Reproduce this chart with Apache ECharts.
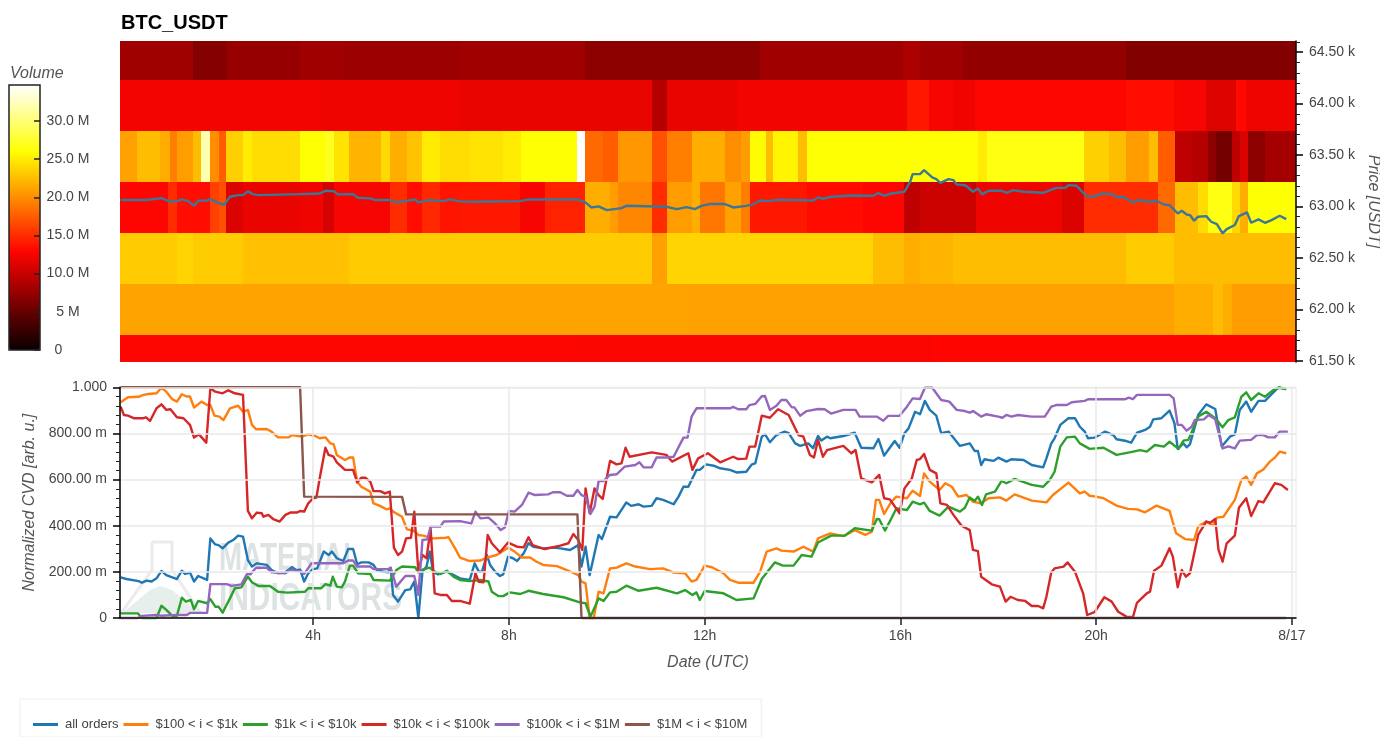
<!DOCTYPE html>
<html><head><meta charset="utf-8">
<style>html,body{margin:0;padding:0;background:#fff;overflow:hidden}#c{width:1380px;height:737px}</style>
<script src="https://cdn.jsdelivr.net/npm/echarts@6/dist/echarts.min.js"></script>
</head><body><div id="c"></div>
<script>
// Time is minutes since 00:00 UTC, 8/16. CVD is normalized 0..1. Price in USDT. Volume in millions.
const xTicks = [240, 480, 720, 960, 1200, 1440];
const xTickLabels = ['4h', '8h', '12h', '16h', '20h', '8/17'];
const priceTicks = [61500, 62000, 62500, 63000, 63500, 64000, 64500];
const priceTickLabels = ['61.50 k', '62.00 k', '62.50 k', '63.00 k', '63.50 k', '64.00 k', '64.50 k'];
const priceMinorTicks = [61600,61700,61800,61900,62100,62200,62300,62400,62600,62700,62800,62900,63100,63200,63300,63400,63600,63700,63800,63900,64100,64200,64300,64400,64600];
const cvdTicks = [0, 0.2, 0.4, 0.6, 0.8, 1];
const cvdTickLabels = ['0', '200.00 m', '400.00 m', '600.00 m', '800.00 m', '1.000'];
const volumeTicks = [0, 5, 10, 15, 20, 25, 30];
const volumeTickLabels = ['0     ', '5 M', '10.0 M', '15.0 M', '20.0 M', '25.0 M', '30.0 M'];
const hotStops = ['#0b0000', '#570000', '#af0000', '#ff0500', '#ff5a00', '#ffae00', '#ffff03', '#ffff80', '#ffffff'];

// price bin edges, bottom to top
const binEdges = [61487, 61749, 62245, 62741, 63237, 63733, 64230, 64609];
// [start minute, volume M]; each band lasts until the next start
const bin0 = [[3, 12.9], [560, 12.8], [1000, 13]];
const bin1 = [[3, 21.1], [700, 21], [1295, 21.7], [1343, 22.5], [1355, 21.7], [1366, 20.8]];
const bin2 = [[3, 23.3], [73, 23.7], [93, 23.3], [154, 22.7], [284, 23.3], [655, 21], [674, 23.7], [927, 22.5], [965, 21.7], [984, 22], [1025, 22.5], [1237, 23.3], [1295, 22.5]];
const bin3 = [[3, 12.9], [62, 15], [73, 13.4], [114, 16], [124, 16.8], [133, 11], [154, 11.8], [224, 12.2], [252, 10.7], [265, 12.6], [334, 15], [355, 13.4], [373, 14.8], [395, 13.8], [420, 14], [494, 12.6], [524, 14.5], [573, 21.7], [604, 20.8], [614, 19.6], [655, 15], [674, 20.8], [704, 21.7], [714, 18.8], [745, 21], [765, 19.2], [775, 14], [845, 13.3], [914, 12.9], [965, 9.5], [984, 10.2], [1053, 12.2], [1158, 11], [1185, 15], [1276, 18.2], [1297, 22.5], [1325, 24.2], [1337, 26.5], [1366, 24], [1376, 21.7], [1386, 26]];
const bin4 = [[3, 21], [24, 22.5], [52, 21.7], [65, 19.2], [73, 20.8], [93, 22.5], [103, 32], [114, 20], [124, 17.5], [133, 23.5], [154, 25], [165, 24.2], [224, 26], [255, 27], [265, 24.5], [284, 22], [323, 24], [334, 21.7], [355, 22.8], [373, 25], [395, 24.2], [432, 24.5], [473, 25], [495, 26], [563, 34.7], [573, 18.2], [595, 17.5], [614, 20.5], [655, 16.8], [674, 19.2], [704, 21.7], [745, 20], [765, 20.8], [775, 25.8], [795, 22.5], [804, 25.5], [834, 22.5], [845, 26], [1055, 25], [1066, 26.5], [1185, 23.5], [1216, 22.5], [1237, 20.8], [1265, 22.5], [1276, 17.5], [1297, 9.5], [1317, 9], [1337, 7], [1347, 5.8], [1366, 9.5], [1376, 11], [1386, 7], [1407, 8.2]];
const bin5 = [[3, 12.4], [248, 12.2], [420, 11.8], [655, 9], [674, 11.8], [760, 12.3], [968, 14], [995, 12.6], [1025, 12.2], [1052, 12.9], [1237, 13.4], [1295, 12.6], [1335, 11.3], [1372, 13.2], [1384, 12.2]];
const bin6 = [[3, 7.9], [93, 6.6], [134, 7.5], [224, 8], [277, 7.8], [420, 8], [573, 7], [788, 8], [963, 8.6], [984, 8], [1037, 7.3], [1237, 6.5]];

const price = [[4,63062],[36,63062],[54,63081],[65,63045],[73,63052],[79,63068],[87,63052],[94,63006],[99,63055],[110,63058],[114,63071],[122,63039],[131,63016],[138,63094],[148,63110],[154,63110],[160,63146],[166,63120],[173,63110],[224,63120],[248,63126],[255,63152],[265,63149],[271,63117],[289,63120],[295,63084],[310,63078],[316,63062],[334,63062],[342,63039],[365,63068],[369,63039],[383,63062],[400,63052],[408,63068],[420,63049],[440,63045],[494,63052],[504,63068],[563,63068],[573,63045],[581,62990],[590,63000],[600,62964],[618,62984],[624,63006],[673,62997],[686,62974],[698,62994],[708,62974],[716,63006],[726,63023],[745,63023],[755,62990],[771,63006],[780,63023],[788,63058],[798,63052],[810,63065],[853,63058],[859,63087],[865,63075],[875,63094],[900,63107],[927,63104],[933,63130],[940,63104],[949,63126],[965,63143],[972,63240],[975,63314],[984,63314],[989,63353],[999,63282],[1004,63266],[1009,63230],[1019,63266],[1025,63256],[1029,63214],[1040,63204],[1049,63143],[1055,63175],[1060,63117],[1068,63152],[1084,63152],[1091,63133],[1098,63159],[1111,63143],[1135,63133],[1151,63181],[1162,63181],[1166,63207],[1176,63201],[1188,63100],[1196,63094],[1209,63126],[1221,63117],[1225,63087],[1233,63094],[1245,63039],[1252,63062],[1266,63045],[1274,63055],[1283,63019],[1290,63013],[1300,62932],[1305,62958],[1311,62922],[1315,62916],[1320,62861],[1325,62900],[1335,62906],[1341,62851],[1348,62828],[1355,62738],[1360,62780],[1370,62819],[1375,62906],[1385,62942],[1390,62841],[1399,62874],[1407,62841],[1415,62867],[1425,62909],[1433,62877]];

const allOrders = [[4,.176],[11,.169],[26,.16],[30,.153],[36,.162],[42,.158],[48,.172],[54,.204],[60,.186],[73,.169],[79,.205],[83,.191],[89,.197],[94,.158],[99,.182],[110,.165],[114,.345],[120,.319],[124,.316],[129,.302],[136,.327],[142,.338],[148,.357],[154,.353],[160,.251],[165,.223],[171,.237],[183,.23],[189,.208],[197,.194],[206,.198],[214,.22],[220,.207],[224,.21],[229,.158],[234,.194],[240,.212],[245,.215],[253,.288],[259,.273],[263,.288],[269,.259],[277,.247],[283,.299],[289,.299],[294,.233],[299,.241],[308,.241],[314,.23],[318,.208],[326,.201],[332,.198],[335,.218],[338,.1],[344,.071],[353,.121],[359,.124],[364,.158],[369,0],[374,.201],[379,.223],[383,.288],[387,.201],[393,.189],[404,.201],[420,.172],[432,.165],[438,.237],[443,.201],[447,.201],[453,.273],[457,.23],[463,.201],[469,.182],[473,.189],[479,.266],[485,.259],[490,.247],[498,.28],[504,.324],[510,.309],[522,.302],[534,.305],[543,.302],[555,.295],[565,.316],[569,.223],[574,.309],[579,.186],[590,.36],[594,.342],[604,.439],[612,.436],[624,.501],[630,.486],[639,.493],[645,.483],[655,.486],[661,.519],[669,.512],[682,.493],[688,.526],[694,.569],[700,.569],[710,.642],[714,.642],[722,.666],[731,.66],[739,.649],[751,.642],[759,.631],[771,.634],[778,.666],[782,.67],[790,.786],[794,.796],[800,.762],[808,.793],[818,.808],[823,.801],[831,.757],[837,.746],[847,.757],[853,.736],[859,.789],[863,.769],[870,.786],[874,.779],[890,.789],[904,.803],[912,.738],[927,.736],[933,.776],[940,.704],[945,.728],[953,.767],[959,.738],[965,.801],[970,.822],[978,.894],[984,.883],[990,.941],[996,.902],[1004,.877],[1010,.801],[1019,.808],[1033,.746],[1045,.757],[1051,.724],[1055,.724],[1059,.663],[1063,.688],[1074,.681],[1080,.695],[1090,.678],[1096,.688],[1111,.685],[1121,.663],[1135,.653],[1139,.692],[1145,.757],[1149,.779],[1156,.837],[1166,.866],[1174,.866],[1180,.829],[1186,.808],[1190,.779],[1198,.782],[1211,.808],[1221,.793],[1225,.775],[1237,.767],[1243,.76],[1250,.803],[1260,.815],[1266,.829],[1270,.861],[1280,.866],[1290,.899],[1296,.844],[1300,.733],[1307,.757],[1311,.74],[1315,.754],[1325,.88],[1335,.926],[1346,.906],[1354,.743],[1364,.786],[1370,.796],[1376,.902],[1384,.938],[1390,.894],[1399,.941],[1407,.941],[1423,.998],[1433,.993]];

const i100to1k = [[4,.935],[13,.957],[26,.959],[32,.967],[38,.971],[48,.974],[54,.998],[60,.981],[67,.949],[73,.938],[79,.97],[85,.96],[89,.96],[94,.912],[103,.938],[110,.923],[114,.923],[119,.877],[125,.873],[130,.858],[138,.909],[148,.92],[154,.894],[160,.902],[165,.837],[170,.818],[183,.819],[189,.808],[197,.783],[210,.783],[214,.793],[226,.786],[234,.796],[242,.79],[248,.779],[255,.783],[261,.757],[265,.754],[269,.707],[279,.685],[285,.696],[289,.696],[294,.591],[299,.569],[310,.548],[314,.497],[322,.486],[330,.471],[334,.475],[338,.461],[349,.439],[355,.384],[363,.379],[369,.36],[375,.357],[387,.345],[402,.348],[406,.35],[414,.302],[420,.262],[432,.247],[445,.249],[453,.262],[465,.273],[479,.305],[487,.288],[496,.262],[506,.262],[514,.244],[522,.23],[539,.225],[551,.208],[565,.186],[569,.158],[574,.15],[579,0],[584,0],[590,.114],[596,.107],[604,.215],[612,.218],[624,.237],[635,.223],[653,.212],[669,.215],[682,.197],[696,.194],[704,.158],[710,.165],[720,.227],[729,.22],[743,.194],[751,.165],[761,.153],[780,.153],[788,.201],[796,.288],[808,.302],[814,.292],[829,.288],[841,.309],[853,.288],[859,.345],[874,.367],[890,.355],[904,.381],[917,.36],[925,.374],[930,.512],[934,.512],[940,.451],[949,.504],[955,.526],[968,.519],[975,.552],[984,.529],[989,.627],[996,.591],[1008,.555],[1015,.584],[1023,.569],[1031,.526],[1041,.533],[1049,.504],[1059,.497],[1068,.519],[1082,.523],[1090,.509],[1100,.536],[1121,.509],[1139,.501],[1147,.533],[1166,.587],[1180,.54],[1186,.548],[1192,.53],[1200,.526],[1209,.519],[1225,.487],[1239,.473],[1250,.471],[1260,.458],[1274,.487],[1290,.464],[1298,.367],[1309,.342],[1320,.338],[1325,.396],[1335,.418],[1343,.4],[1348,.435],[1356,.439],[1370,.512],[1378,.598],[1384,.613],[1390,.577],[1397,.627],[1405,.644],[1413,.678],[1419,.695],[1425,.721],[1433,.714]];

const i1kto10k = [[4,.02],[25,.02],[30,0],[48,0],[54,.053],[60,.035],[67,.01],[73,.01],[79,.088],[84,.071],[90,.078],[94,.038],[99,.074],[110,.064],[114,.082],[120,.049],[124,.049],[129,.023],[138,.085],[144,.129],[152,.133],[160,.179],[165,.155],[173,.139],[187,.139],[197,.114],[208,.11],[230,.114],[234,.129],[250,.129],[255,.147],[261,.14],[264,.179],[269,.136],[275,.133],[279,.158],[285,.227],[289,.227],[295,.194],[310,.191],[314,.165],[334,.162],[342,.208],[349,.223],[365,.22],[369,.198],[375,.211],[383,.218],[389,.201],[396,.191],[404,.205],[412,.179],[420,.165],[432,.16],[445,.165],[455,.158],[459,.114],[467,.095],[473,.095],[481,.111],[494,.104],[504,.118],[522,.104],[547,.09],[567,.068],[574,.064],[580,.006],[590,.085],[596,.074],[604,.111],[612,.114],[624,.14],[639,.118],[661,.131],[686,.107],[696,.121],[705,.1],[710,.111],[714,.078],[720,.117],[743,.107],[759,.078],[780,.085],[790,.169],[806,.241],[816,.227],[829,.227],[839,.273],[851,.266],[859,.327],[875,.357],[892,.357],[904,.389],[925,.379],[931,.429],[934,.428],[941,.379],[949,.432],[955,.475],[968,.468],[975,.504],[984,.493],[989,.5],[996,.464],[1008,.444],[1019,.483],[1033,.461],[1039,.478],[1045,.522],[1051,.507],[1055,.526],[1060,.49],[1065,.536],[1076,.548],[1084,.594],[1090,.584],[1100,.603],[1121,.577],[1135,.569],[1143,.598],[1149,.634],[1156,.743],[1164,.783],[1174,.786],[1180,.757],[1192,.733],[1209,.738],[1225,.707],[1241,.718],[1254,.728],[1262,.721],[1272,.75],[1283,.743],[1290,.764],[1301,.733],[1307,.769],[1313,.772],[1319,.822],[1325,.873],[1335,.894],[1346,.866],[1355,.827],[1362,.858],[1370,.87],[1378,.959],[1384,.978],[1390,.945],[1399,.974],[1407,.959],[1417,.988],[1425,1],[1433,.991]];

const i10kto100k = [[4,.916],[8,.88],[13,.877],[20,.866],[32,.866],[35,.87],[40,.854],[48,.909],[54,.926],[60,.902],[65,.905],[73,.87],[81,.866],[89,.837],[94,.782],[100,.796],[109,.76],[114,.996],[120,.981],[129,.974],[136,.987],[144,.974],[154,.967],[160,.464],[165,.432],[171,.457],[177,.454],[179,.439],[185,.447],[191,.429],[199,.418],[206,.447],[212,.457],[220,.457],[224,.464],[229,.461],[234,.497],[240,.519],[244,.522],[248,.605],[255,.738],[259,.707],[265,.699],[269,.675],[279,.642],[289,.642],[294,.588],[299,.608],[304,.608],[310,.591],[314,.55],[322,.55],[328,.54],[334,.548],[339,.305],[344,.273],[349,.288],[354,.345],[360,.348],[364,.461],[369,.201],[374,.273],[379,.259],[384,.389],[389,.107],[396,.1],[404,.1],[410,.074],[420,.074],[432,.062],[439,.194],[443,.157],[449,.155],[454,.36],[459,.324],[469,.285],[479,.327],[490,.309],[498,.306],[504,.35],[509,.316],[524,.299],[543,.314],[553,.324],[559,.364],[565,.338],[570,.295],[574,.562],[579,.454],[585,.562],[590,.533],[595,.516],[604,.681],[612,.666],[618,.67],[623,.738],[628,.699],[655,.718],[673,.707],[680,.678],[700,.714],[705,.642],[712,.692],[724,.714],[739,.675],[755,.699],[761,.689],[771,.691],[775,.743],[782,.743],[790,.877],[800,.868],[810,.905],[823,.88],[835,.793],[841,.786],[849,.707],[854,.696],[859,.772],[865,.699],[870,.728],[890,.746],[900,.714],[905,.728],[912,.605],[925,.588],[934,.62],[940,.519],[947,.514],[959,.454],[965,.562],[974,.605],[980,.685],[984,.689],[989,.711],[996,.642],[1004,.627],[1009,.497],[1017,.49],[1025,.447],[1035,.4],[1045,.381],[1049,.295],[1055,.29],[1059,.179],[1072,.146],[1082,.136],[1089,.071],[1095,.092],[1104,.078],[1113,.074],[1121,.052],[1129,.052],[1135,.042],[1139,.092],[1145,.198],[1149,.215],[1160,.223],[1165,.241],[1174,.201],[1184,.107],[1189,.013],[1198,.025],[1210,.09],[1219,.071],[1227,.027],[1237,.006],[1245,.003],[1250,.066],[1262,.107],[1266,.114],[1271,.205],[1280,.227],[1290,.302],[1294,.266],[1300,.133],[1305,.208],[1310,.179],[1315,.194],[1325,.36],[1335,.418],[1340,.413],[1346,.429],[1350,.295],[1355,.244],[1360,.324],[1370,.357],[1375,.478],[1384,.519],[1390,.442],[1399,.507],[1405,.501],[1419,.584],[1427,.577],[1435,.555]];

const i100kto1M = [[4,0],[25,0],[30,.009],[48,.013],[54,.01],[73,.013],[85,.013],[89,.022],[110,.022],[114,.147],[134,.147],[140,.139],[152,.146],[159,.191],[163,.189],[170,.218],[183,.218],[189,.198],[206,.194],[212,.208],[226,.201],[229,.191],[238,.237],[277,.237],[283,.249],[289,.249],[294,.223],[310,.223],[314,.212],[332,.212],[335,.218],[342,.136],[353,.182],[364,.182],[369,.1],[374,.338],[380,.341],[384,.396],[396,.396],[400,.418],[420,.42],[434,.41],[439,.461],[445,.432],[455,.435],[463,.41],[470,.381],[475,.392],[480,.464],[487,.461],[496,.49],[504,.543],[512,.533],[528,.536],[534,.545],[543,.545],[551,.53],[559,.53],[564,.555],[569,.533],[574,.526],[580,.451],[585,.483],[590,.594],[596,.594],[604,.62],[612,.623],[622,.656],[635,.663],[640,.675],[645,.653],[655,.653],[661,.696],[673,.696],[682,.699],[694,.782],[699,.782],[704,.873],[710,.909],[751,.909],[755,.915],[761,.905],[771,.905],[775,.923],[782,.928],[790,.961],[794,.962],[800,.902],[808,.92],[814,.945],[820,.945],[827,.913],[830,.913],[837,.877],[845,.897],[859,.906],[867,.905],[875,.886],[890,.902],[905,.902],[910,.873],[931,.873],[939,.855],[945,.876],[959,.877],[968,.916],[975,.952],[984,.949],[990,.998],[999,.998],[1010,.945],[1020,.938],[1029,.902],[1039,.897],[1045,.89],[1049,.897],[1059,.873],[1065,.883],[1080,.873],[1085,.868],[1090,.88],[1096,.873],[1104,.88],[1121,.873],[1137,.873],[1145,.916],[1151,.923],[1164,.923],[1170,.935],[1186,.941],[1190,.948],[1235,.948],[1240,.955],[1245,.949],[1250,.967],[1290,.967],[1295,.952],[1300,.837],[1305,.837],[1311,.812],[1317,.829],[1321,.858],[1332,.861],[1338,.88],[1346,.861],[1355,.735],[1362,.744],[1370,.735],[1376,.769],[1390,.772],[1397,.793],[1405,.793],[1411,.783],[1419,.783],[1425,.808],[1435,.808]];

const i1Mto10M = [[4,1],[224,1],[229,.526],[349,.525],[354,.449],[564,.449],[569,0],[1433,0]];

const seriesNames = ['all orders', '$100 < i < $1k', '$1k < i < $10k', '$10k < i < $100k', '$100k < i < $1M', '$1M < i < $10M'];
const seriesColors = ['#1f77b4', '#ff7f0e', '#2ca02c', '#d62728', '#9467bd', '#8c564b'];
const seriesData = [allOrders, i100to1k, i1kto10k, i10kto100k, i100kto1M, i1Mto10M];
const bins = [bin0, bin1, bin2, bin3, bin4, bin5, bin6];

const xMin = 3.2, xMax = 1445;
const FONT = '"Liberation Sans", Arial, sans-serif';
const INK = '#444';

const cells = [];
bins.forEach((bands, r) => bands.forEach((b, k) => {
  const end = k + 1 < bands.length ? bands[k + 1][0] : xMax;
  cells.push([b[0], end, binEdges[r], binEdges[r + 1], b[1]]);
}));

const labelFrom = (vals, labels) => v => {
  const i = vals.findIndex(t => Math.abs(t - v) < 1e-6);
  return i < 0 ? '' : labels[i];
};

const chart = echarts.init(document.getElementById('c'), null, { renderer: 'canvas' });
chart.setOption({
  animation: false,
  backgroundColor: '#fff',
  textStyle: { fontFamily: FONT },
  title: [
    { text: 'BTC_USDT', left: 121, top: 13, padding: 0, textStyle: { fontFamily: FONT, fontSize: 20, fontWeight: 'bold', color: '#000' } },
    { text: 'Volume', left: 10, top: 66, padding: 0, textStyle: { fontFamily: FONT, fontSize: 16, fontStyle: 'italic', fontWeight: 'normal', color: '#555' } }
  ],
  graphic: [
    { type: 'polygon', silent: true, z: 0, shape: { points: [[124, 612], [150, 590], [160, 586], [172, 590], [198, 612]] }, style: { fill: '#e6efec' } },
    { type: 'polyline', silent: true, z: 0, shape: { points: [[152, 542], [172, 542], [172, 570], [200, 612], [122, 612], [152, 570], [152, 542]] }, style: { stroke: '#e9ecec', lineWidth: 3, fill: null } },
    { type: 'text', silent: true, z: 0, x: 219, y: 541, scaleX: 0.73, style: { text: 'MATERIAL', fill: '#dde2e2', font: 'bold 38px "Liberation Sans", sans-serif' } },
    { type: 'text', silent: true, z: 0, x: 219, y: 581, scaleX: 0.786, style: { text: 'INDICATORS', fill: '#dde2e2', font: 'bold 38px "Liberation Sans", sans-serif' } }
  ],
  grid: [
    { left: 120, top: 41, width: 1176, height: 321, outerBoundsMode: 'none' },
    { left: 120, top: 387.3, width: 1176, height: 230.7, show: true, borderColor: '#e8e8e8', borderWidth: 1, z: 0, outerBoundsMode: 'none' },
    { left: 9, top: 85, width: 31, height: 265, show: true, borderColor: '#222', borderWidth: 1.5, z: 10, outerBoundsMode: 'none' }
  ],
  xAxis: [
    { type: 'value', gridIndex: 0, min: xMin, max: xMax, show: false },
    {
      type: 'value', gridIndex: 1, min: xMin, max: xMax, name: 'Date (UTC)', nameLocation: 'middle', nameGap: 37,
      nameTextStyle: { fontSize: 16, fontStyle: 'italic', color: '#555', fontFamily: FONT },
      axisLine: { show: true, lineStyle: { color: '#000', width: 1.5 } },
      axisTick: { show: true, length: 7, customValues: xTicks, lineStyle: { color: '#222', width: 1.5 } },
      axisLabel: { show: true, customValues: xTicks, formatter: labelFrom(xTicks, xTickLabels), margin: 11, fontSize: 14, color: INK, fontFamily: FONT, showMinLabel: true, showMaxLabel: true },
      splitLine: { show: true, lineStyle: { color: '#e8e8e8', width: 1.5 } },
      z: 5
    },
    { type: 'value', gridIndex: 2, min: 0, max: 1, show: false }
  ],
  yAxis: [
    {
      type: 'value', gridIndex: 0, min: binEdges[0], max: binEdges[7], position: 'right',
      name: 'Price [USDT]', nameLocation: 'middle', nameGap: 66, nameRotate: -90,
      nameTextStyle: { fontSize: 16, fontStyle: 'italic', color: '#555', fontFamily: FONT },
      axisLine: { show: true, onZero: false, lineStyle: { color: '#000', width: 1.5 } },
      axisTick: { show: true, length: 7, customValues: priceTicks, lineStyle: { color: '#000', width: 1.5 } },
      axisLabel: { customValues: priceTicks, formatter: labelFrom(priceTicks, priceTickLabels), margin: 13, fontSize: 14, color: INK, fontFamily: FONT },
      splitLine: { show: false }, z: 5
    },
    {
      type: 'value', gridIndex: 1, min: 0, max: 1, interval: 0.2,
      name: 'Normalized CVD [arb. u.]', nameLocation: 'middle', nameGap: 78,
      nameTextStyle: { fontSize: 16, fontStyle: 'italic', color: '#555', fontFamily: FONT },
      axisLine: { show: true, onZero: false, lineStyle: { color: '#000', width: 1.5 } },
      axisTick: { show: true, length: 7, lineStyle: { color: '#000', width: 1.5 } },
      minorTick: { show: true, splitNumber: 5, length: 4, lineStyle: { color: '#222' } },
      axisLabel: { formatter: labelFrom(cvdTicks, cvdTickLabels), margin: 13, fontSize: 14, color: INK, fontFamily: FONT },
      splitLine: { show: true, lineStyle: { color: '#e8e8e8', width: 1.5 } }, z: 5
    },
    {
      type: 'value', gridIndex: 2, min: 0, max: 34.7, position: 'right', z: 11,
      axisLine: { show: false, onZero: false },
      axisTick: { show: true, inside: true, length: 6, customValues: volumeTicks, lineStyle: { color: '#222', width: 1.5 } },
      axisLabel: { customValues: volumeTicks, formatter: labelFrom(volumeTicks, volumeTickLabels), margin: 28, align: 'center', fontSize: 14, color: INK, fontFamily: FONT, showMinLabel: true },
      splitLine: { show: false }
    },
    {
      type: 'value', gridIndex: 0, min: binEdges[0], max: binEdges[7], position: 'right', z: 5,
      axisLine: { show: false, onZero: false },
      axisTick: { show: true, length: 4, customValues: priceMinorTicks, lineStyle: { color: '#222' } },
      axisLabel: { show: false },
      splitLine: { show: false }
    }
  ],
  visualMap: [{
    type: 'continuous', min: 0, max: 34.7, dimension: 4, seriesIndex: 0,
    left: 9, top: 85, itemWidth: 31, itemHeight: 265, padding: 0,
    calculable: false, realtime: false, text: null, showLabel: false, hoverLink: false,
    inRange: { color: hotStops }
  }],
  legend: {
    show: true, left: 20, top: 699, orient: 'horizontal',
    data: seriesNames, itemWidth: 25, itemHeight: 3, itemGap: 5,
    padding: [19, 14, 6, 13], borderColor: '#eee', borderWidth: 1, icon: 'rect',
    textStyle: { fontSize: 13, color: INK, fontFamily: FONT, padding: [0, 0, 0, 2] }
  },
  series: [
    {
      type: 'custom', name: 'volume', xAxisIndex: 0, yAxisIndex: 0, data: cells, clip: true,
      encode: { x: [0, 1], y: [2, 3] }, z: 1, silent: true,
      renderItem: (params, api) => {
        const a = api.coord([api.value(0), api.value(3)]);
        const b = api.coord([api.value(1), api.value(2)]);
        const x0 = Math.round(a[0]), x1 = Math.round(b[0]), y0 = Math.round(a[1]), y1 = Math.round(b[1]);
        return { type: 'rect', shape: { x: x0, y: y0, width: x1 - x0, height: y1 - y0 }, style: { fill: api.visual('color'), stroke: null } };
      }
    },
    {
      type: 'line', name: 'price', xAxisIndex: 0, yAxisIndex: 0, data: price, showSymbol: false, z: 3, silent: true,
      lineStyle: { color: '#3b7797', width: 2.4 }, itemStyle: { color: '#3b7797' }
    },
    ...seriesNames.map((name, i) => ({
      type: 'line', name, xAxisIndex: 1, yAxisIndex: 1, data: seriesData[i], showSymbol: false, symbol: 'none', clip: false, z: 3 + i * 0.01, silent: true,
      lineStyle: { color: seriesColors[i], width: 2.4, join: 'round' }, itemStyle: { color: seriesColors[i] }
    }))
  ]
});
</script></body></html>
